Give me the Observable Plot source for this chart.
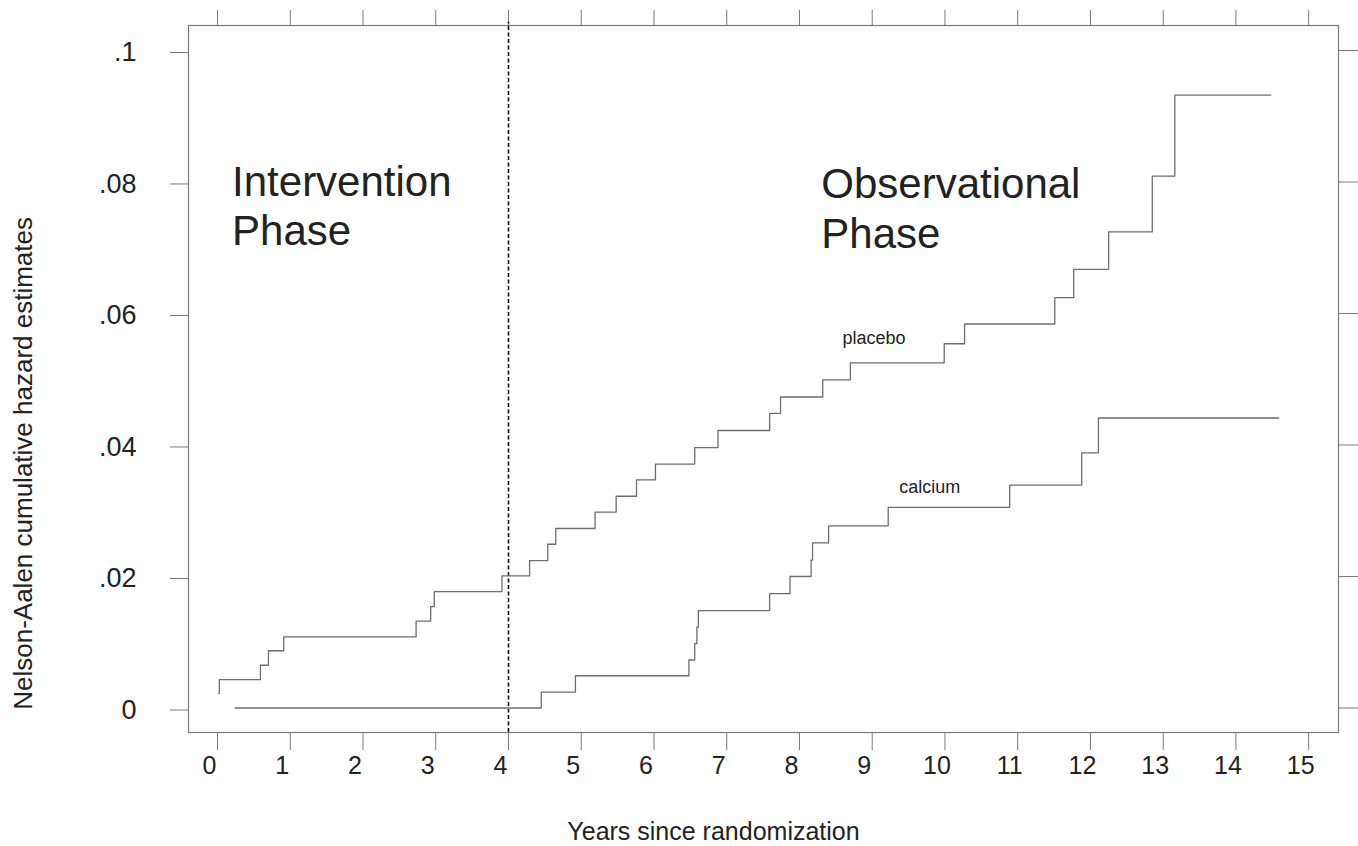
<!DOCTYPE html>
<html>
<head>
<meta charset="utf-8">
<script src="https://cdn.jsdelivr.net/npm/d3@7"></script>
<script src="https://cdn.jsdelivr.net/npm/@observablehq/plot@0.6"></script>
<style>
  html, body { margin: 0; padding: 0; background: #fff; }
  #chart svg { display: block; }
</style>
</head>
<body>
<div id="chart"></div>
<script>
// ---- data ----
const xTicks = [0, 1, 2, 3, 4, 5, 6, 7, 8, 9, 10, 11, 12, 13, 14, 15];
const yTicks = [0, 0.02, 0.04, 0.06, 0.08, 0.1];
const yTickLabels = ["0", ".02", ".04", ".06", ".08", ".1"];

const placeboYears  = [0.02, 0.025, 0.59, 0.70, 0.91, 2.73, 2.93, 2.98, 3.91, 4.29, 4.54, 4.65, 5.19, 5.48, 5.76, 6.02, 6.56, 6.88, 7.59, 7.74, 8.32, 8.70, 9.99, 10.27, 11.51, 11.77, 12.25, 12.85, 13.16, 14.48];
const placeboHazard = [0.0022, 0.0043, 0.0065, 0.0087, 0.0108, 0.0132, 0.0154, 0.0177, 0.0201, 0.0224, 0.0249, 0.0273, 0.0298, 0.0322, 0.0347, 0.0371, 0.0396, 0.0422, 0.0448, 0.0473, 0.0499, 0.0525, 0.0554, 0.0584, 0.0624, 0.0667, 0.0724, 0.0809, 0.0932, 0.0932];

const calciumYears  = [0.24, 4.45, 4.92, 6.48, 6.56, 6.59, 6.61, 7.59, 7.87, 8.16, 8.18, 8.40, 9.22, 10.89, 11.88, 12.11, 14.59];
const calciumHazard = [0, 0.0024, 0.0049, 0.0073, 0.0098, 0.0123, 0.0148, 0.0174, 0.0200, 0.0225, 0.0251, 0.0277, 0.0305, 0.0339, 0.0388, 0.0441, 0.0441];

const seriesLabels = ["placebo", "calcium"];
const phaseLabels = ["Intervention\nPhase", "Observational\nPhase"];
const phaseBoundary = [4];
const xTitle = "Years since randomization";
const yTitle = "Nelson-Aalen cumulative hazard estimates";

// ---- tables ----
const placebo = placeboYears.map((t, i) => ({t, h: placeboHazard[i]}));
const calcium = calciumYears.map((t, i) => ({t, h: calciumHazard[i]}));
const yFmt = d => yTickLabels[yTicks.indexOf(d)];

const gray = "#7a7a7a";
const lineGray = "#6e6e6e";
const font = "'Liberation Sans', Arial, Helvetica, sans-serif";
const yDomain = [-0.00373, 0.1038];

const chart = Plot.plot({
  width: 1358,
  height: 846,
  marginLeft: 188,
  marginRight: 20,
  marginTop: 25,
  marginBottom: 114,
  style: {fontFamily: font, background: "#fff", color: "#222", overflow: "visible"},
  x: {domain: [-0.399, 15.41]},
  y: {domain: yDomain},
  marks: [
    Plot.frame({stroke: gray, strokeWidth: 1.2}),
    // bottom ticks
    Plot.axisX({ticks: xTicks, tickSize: 18, tickFormat: () => "", label: null, stroke: gray}),
    // bottom labels (slightly shifted left as in the reference)
    Plot.axisX({ticks: xTicks, tickSize: 18, tickPadding: 6, dx: -8, strokeOpacity: 0, fontSize: 25, label: null, tickFormat: d => String(d)}),
    // top ticks
    Plot.axisX({anchor: "top", ticks: xTicks, tickSize: 16, tickFormat: () => "", label: null, stroke: gray}),
    // left axis
    Plot.axisY({ticks: yTicks, tickSize: 18, tickPadding: 34, tickFormat: yFmt, fontSize: 27, label: null, stroke: gray, dy: 2}),
    // right ticks
    Plot.axisY({anchor: "right", ticks: yTicks, tickSize: 19, tickFormat: () => "", label: null, stroke: gray}),
    // phase boundary
    Plot.ruleX(phaseBoundary, {y1: yDomain[0], y2: 0.1043, stroke: "#111", strokeWidth: 1.6, strokeDasharray: "4,2.5"}),
    // step curves
    Plot.line(placebo, {x: "t", y: "h", curve: "step-after", stroke: lineGray, strokeWidth: 1.3}),
    Plot.line(calcium, {x: "t", y: "h", curve: "step-after", stroke: lineGray, strokeWidth: 1.3}),
    // series labels
    Plot.text([seriesLabels[0]], {x: 8.59, y: 0.0562, text: d => d, textAnchor: "start", lineAnchor: "middle", fontSize: 18, fill: "#222"}),
    Plot.text([seriesLabels[1]], {x: 9.37, y: 0.0335, text: d => d, textAnchor: "start", lineAnchor: "middle", fontSize: 18, fill: "#222"}),
    // phase labels
    Plot.text([phaseLabels[0]], {x: 0.20, y: 0.0832, text: d => d, textAnchor: "start", lineAnchor: "top", fontSize: 42, lineHeight: 1.17, fill: "#222"}),
    Plot.text([phaseLabels[1]], {x: 8.30, y: 0.0828, text: d => d, textAnchor: "start", lineAnchor: "top", fontSize: 42, lineHeight: 1.17, fill: "#222"}),
    // axis titles
    Plot.text([xTitle], {frameAnchor: "bottom", text: d => d, dx: -50, dy: 99, fontSize: 25, lineAnchor: "middle", fill: "#222"}),
    Plot.text([yTitle], {x: -2.667, y: 0.0372, text: d => d, rotate: -90, fontSize: 26, textAnchor: "middle", lineAnchor: "middle", fill: "#222"})
  ]
});

document.getElementById("chart").appendChild(chart);
</script>
</body>
</html>
